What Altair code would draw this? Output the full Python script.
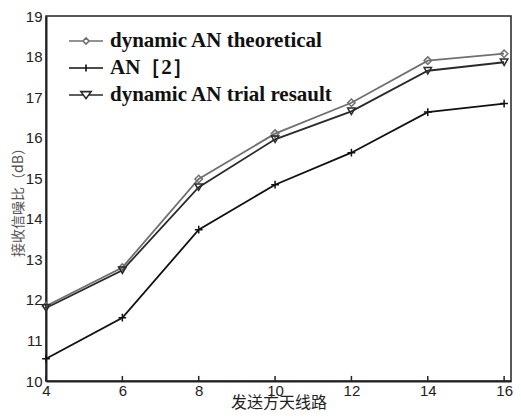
import altair as alt
import pandas as pd

antennas = [4, 6, 8, 10, 12, 14, 16]
theory = [11.85, 12.80, 14.98, 16.10, 16.86, 17.90, 18.07]
an_ref = [10.55, 11.56, 13.73, 14.84, 15.63, 16.63, 16.84]
trial = [11.80, 12.73, 14.78, 15.96, 16.65, 17.65, 17.86]
series = ["dynamic AN theoretical", "AN［2］", "dynamic AN trial resault"]
colors = ["#707070", "#111111", "#2a2a2a"]
x_ticks = [4, 6, 8, 10, 12, 14, 16]
y_ticks = [10, 11, 12, 13, 14, 15, 16, 17, 18, 19]

rows = []
for name, vals in zip(series, [theory, an_ref, trial]):
    for a, v in zip(antennas, vals):
        rows.append({"n": a, "snr": v, "series": name})
df = pd.DataFrame(rows)
ticks_df = pd.DataFrame({"t": x_ticks})

x_enc = alt.X("n:Q", scale=alt.Scale(domain=[4, 16.18], nice=False, zero=False),
              axis=alt.Axis(values=x_ticks, title="发送方天线路", tickSize=0, labelPadding=2,
                            titlePadding=-4, labelFlush=False))
y_enc = alt.Y("snr:Q", scale=alt.Scale(domain=[10, 19], nice=False, zero=False),
              axis=alt.Axis(values=y_ticks, title="接收信噪比（dB）", tickSize=0, labelPadding=4,
                            titlePadding=0))
color_scale = alt.Scale(domain=series, range=colors)

legend_cfg = alt.Legend(title=None, orient="none", legendX=22, legendY=12.5, padding=0,
                        symbolSize=1156, symbolStrokeWidth=1.6, symbolOpacity=1,
                        clipHeight=25, rowPadding=2, labelOffset=6,
                        labelFont="Liberation Serif", labelFontWeight="bold", labelFontSize=21,
                        labelColor="#111111", labelLimit=400)

stroke_enc = alt.Stroke("series:N", scale=color_scale, legend=legend_cfg)

lines = alt.Chart(df).mark_line(strokeWidth=1.8).encode(
    x=x_enc, y=y_enc, stroke=stroke_enc, detail="series:N",
)

marker_shapes = {"dynamic AN theoretical": "diamond",
                 "AN［2］": "M-1,0L1,0M0,-1L0,1",
                 "dynamic AN trial resault": "triangle-down"}
marker_sizes = {"dynamic AN theoretical": 55, "AN［2］": 60, "dynamic AN trial resault": 55}
point_layers = []
for name in series:
    point_layers.append(
        alt.Chart(df[df.series == name]).mark_point(
            shape=marker_shapes[name], size=marker_sizes[name], filled=False, strokeWidth=1.5, opacity=1
        ).encode(x="n:Q", y="snr:Q", stroke=stroke_enc)
    )

legend_paths = [
    "M-1,0L-0.18,0M0.18,0L1,0M0,-0.18L0.18,0L0,0.18L-0.18,0Z",
    "M-1,0L1,0M0,-0.2L0,0.2",
    "M-1,0L-0.16,0M0.16,0L1,0M-0.3,-0.2L0.3,-0.2L0,0.22Z",
]
legend_layer = alt.Chart(df).mark_point(filled=False, opacity=0).encode(
    x="n:Q", y="snr:Q",
    stroke=stroke_enc,
    shape=alt.Shape("series:N", scale=alt.Scale(domain=series, range=legend_paths), legend=legend_cfg),
)

ticks = alt.Chart(ticks_df).mark_rule(color="#222222", strokeWidth=1.5).encode(
    x="t:Q", y=alt.datum(10), y2=alt.datum(10.125)
)

chart = alt.layer(lines, *point_layers, ticks, legend_layer).properties(
    width=465, height=365,
    autosize=alt.AutoSizeParams(type="none"),
    padding={"left": 38, "top": 8, "right": 2, "bottom": 30},
).configure_view(
    stroke="#222222", strokeWidth=1.5
).configure_axis(
    grid=False, domainColor="#222222", domainWidth=2,
    labelFont="Liberation Sans", labelFontSize=15, labelColor="#222222",
).configure_axisY(
    titleFont="Noto Sans CJK SC", titleFontSize=14, titleFontWeight="normal", titleColor="#555555",
).configure_axisX(
    titleFont="Noto Sans CJK SC", titleFontSize=16, titleFontWeight="normal", titleColor="#222222",
)

chart.save("out.html", embed_options={"renderer": "svg", "actions": False})
